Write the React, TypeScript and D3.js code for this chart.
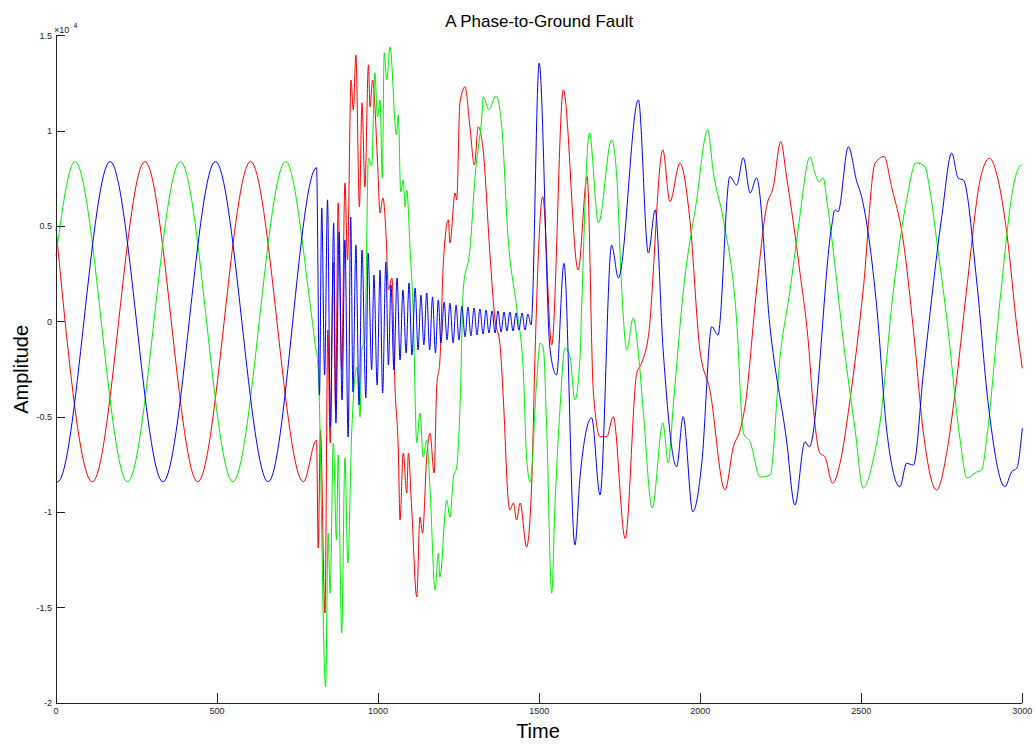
import React from "react";
import * as d3 from "d3";

// Three phase voltages (raw amplitude) sampled at their turning points, in [time, amplitude] pairs.
const redPhase: [number, number][] = [
  [0, 4900], [113, -8400], [276, 8400], [440, -8400], [604, 8400], [768, -8400],
  [809, -6210], [814, -11870], [821, -5680], [835, -15280], [844, -440], [851, -6360], [861, 3130], [868, -4630],
  [876, 6230], [887, -2530], [897, 7280], [905, 3240], [916, 12680], [923, 11110], [931, 13990], [942, 6020],
  [950, 11480], [959, 7070], [970, 13470], [975, 11270], [983, 12680], [998, 8480], [1006, 5700], [1015, 6490],
  [1025, 4440], [1032, 1660], [1043, 2290], [1052, -3220], [1063, -6890], [1068, -10400], [1078, -6890],
  [1089, -8990], [1094, -6890], [1104, -9720], [1120, -14430], [1130, -10250], [1138, -11090], [1151, -7100],
  [1161, -5840], [1174, -7940], [1182, -3410], [1192, -2010], [1202, 2890], [1218, 5340], [1223, 4130],
  [1239, 6750], [1244, 6390], [1254, 11480], [1270, 12320], [1285, 10230], [1299, 8220], [1311, 10220],
  [1327, 8850], [1347, 3600], [1363, 90], [1378, -1130], [1389, -4110], [1404, -9360], [1409, -9880],
  [1420, -9510], [1430, -10400], [1441, -9510], [1461, -11820], [1477, -8460], [1487, -1840], [1511, 6560],
  [1539, -1220], [1575, 12160], [1621, 2710], [1649, 7610], [1668, -3580], [1689, -6030], [1710, -6030],
  [1730, -4980], [1767, -11370], [1803, -2710], [1818, -2180], [1839, -790], [1884, 9010], [1906, 6300],
  [1937, 8310], [1968, 5340], [1999, -1480], [2030, -3580], [2077, -8830], [2103, -6560], [2124, -5680],
  [2139, -4460], [2175, 1660], [2206, 6030], [2227, 7080], [2250, 9440], [2268, 7610], [2310, 2540],
  [2336, -1130], [2351, -4460], [2372, -6910], [2387, -7080], [2411, -8480], [2434, -7430], [2465, -4110],
  [2506, 1660], [2543, 8310], [2571, 8660], [2594, 7080], [2630, 4290], [2662, -440], [2693, -5840],
  [2734, -8830], [2765, -6910], [2791, -3760], [2827, 1660], [2869, 7430], [2898, 8570], [2925, 7430],
  [2952, 4640], [2983, -260], [3000, -2450],
];

const greenPhase: [number, number][] = [
  [0, 3450], [59, 8400], [222, -8400], [386, 8400], [549, -8400], [713, 8400],
  [789, 930], [804, -1120], [814, -2380], [837, -19150], [845, -11090], [851, -14240], [861, -6370],
  [871, -11450], [876, -6990], [887, -16330], [897, -7150], [906, -12660], [918, -5840], [934, -2380],
  [944, -5000], [949, -1490], [959, -960], [970, 8590], [980, 8170], [990, 13050], [998, 10740],
  [1006, 11630], [1013, 7540], [1019, 14100], [1027, 12680], [1037, 14410], [1057, 9800], [1063, 10850],
  [1070, 6810], [1078, 7430], [1084, 6020], [1089, 6910], [1099, 3920], [1109, 460], [1120, -6360],
  [1130, -4790], [1140, -7100], [1151, -6210], [1161, -8670], [1177, -14080], [1187, -12140], [1192, -13400],
  [1213, -9360], [1223, -10250], [1234, -8150], [1244, -7620], [1254, -4630], [1265, 1820], [1285, 3760],
  [1301, 7590], [1322, 10740], [1327, 11790], [1344, 11110], [1366, 11840], [1384, 10220], [1404, 4290],
  [1430, 770], [1451, -2690], [1461, -7100], [1472, -8410], [1492, -3220], [1503, -1120], [1513, -1380],
  [1523, -5320], [1539, -14240], [1549, -9720], [1565, -4480], [1580, -1380], [1596, -1850], [1611, -4110],
  [1627, -1850], [1632, 770], [1656, 9900], [1684, 5180], [1725, 9530], [1741, 7590], [1756, 1820],
  [1772, -1480], [1792, 190], [1808, -1640], [1823, -4630], [1851, -9780], [1884, -5320], [1901, -7410],
  [1916, -4480], [1948, 1660], [1989, 6390], [2023, 10060], [2041, 7800], [2072, 5340], [2113, 90],
  [2134, -5840], [2155, -6310], [2186, -8150], [2217, -8040], [2248, -1850], [2279, 1660], [2305, 4970],
  [2341, 8640], [2356, 7800], [2370, 7330], [2382, 7540], [2393, 6390], [2413, 3760], [2444, -960],
  [2481, -5680], [2506, -8730], [2537, -7260], [2558, -5320], [2600, 1660], [2641, 6390], [2670, 8330],
  [2698, 8120], [2713, 6910], [2734, 4290], [2765, 250], [2807, -6210], [2828, -8200], [2858, -7890],
  [2874, -7780], [2890, -6050], [2931, 1140], [2972, 7070], [2991, 8130], [3000, 8220],
];

const bluePhase: [number, number][] = [
  [0, -8380], [5, -8400], [168, 8400], [332, -8400], [495, 8400], [659, -8400], [809, 8080],
  [818, -3850], [825, 5970], [834, -2800], [843, 6390], [852, -5530], [862, 5180], [869, -5320],
  [879, 4710], [888, -4110], [897, 4290], [907, -6050], [915, 5490], [922, -3690], [931, 4020],
  [941, -4370], [950, 3760], [962, -4000], [969, 3600], [980, -2530], [987, 2450], [997, -3320],
  [1006, 2710], [1014, -3740], [1024, 3130], [1032, -2270], [1040, 1930], [1049, -2530], [1059, 2290],
  [1068, -2010], [1077, 1660], [1087, -1640], [1096, 2030], [1105, -1750], [1115, 1770], [1124, -1480],
  [1133, 1400], [1142, -1220], [1151, 1510], [1160, -1480], [1169, 1300], [1178, -1640], [1187, 1140],
  [1195, -1120], [1205, 1030], [1214, -960], [1223, 980], [1233, -1120], [1242, 880], [1251, -960],
  [1260, 820], [1270, -800], [1279, 770], [1288, -750], [1298, 720], [1307, -700], [1316, 670],
  [1326, -650], [1335, 610], [1344, -590], [1354, 560], [1363, -590], [1372, 560], [1382, -540],
  [1391, 510], [1400, -490], [1409, 510], [1419, -490], [1428, 460], [1437, -440], [1447, 460],
  [1456, -440], [1465, 400], [1475, -170],
  [1500, 13560], [1534, -1490], [1554, -2800], [1577, 3060], [1611, -11720], [1627, -8130], [1663, -5040],
  [1689, -9090], [1725, 4020], [1746, 2290], [1808, 11630], [1839, 3600], [1860, 5860], [1885, -1490],
  [1927, -7610], [1947, -4980], [1977, -9970], [2005, -7410], [2036, -260], [2055, -700], [2092, 7610],
  [2113, 7170], [2134, 8590], [2155, 6750], [2175, 7540], [2217, -330], [2268, -6210], [2294, -9620],
  [2325, -6300], [2339, -6560], [2408, 4980], [2418, 5860], [2428, 5770], [2460, 9180], [2486, 7350],
  [2501, 6560], [2548, 790], [2579, -5680], [2620, -8660], [2641, -7430], [2662, -7520], [2693, -2690],
  [2750, 5510], [2781, 8840], [2801, 7520], [2817, 7430], [2858, 2190], [2894, -4270], [2946, -8660],
  [2967, -7870], [2983, -7680], [3000, -5590],
];

const xTicks = [0, 500, 1000, 1500, 2000, 2500, 3000];
// y tick values in units of 10^4
const yTicks = [-2, -1.5, -1, -0.5, 0, 0.5, 1, 1.5];

const series = [
  { name: "Phase A", color: "#ff0000", data: redPhase },
  { name: "Phase B", color: "#00ee00", data: greenPhase },
  { name: "Phase C", color: "#0000ff", data: bluePhase },
];

const FONT = "'Liberation Sans', Arial, Helvetica, sans-serif";

export default function App() {
  const x = d3.scaleLinear().domain([0, 3000]).range([56, 1022.3]);
  const y = d3.scaleLinear().domain([-20000, 15000]).range([703, 35.7]);
  const line = d3
    .line<[number, number]>()
    .x((d) => x(d[0]))
    .y((d) => y(d[1]))
    .curve(d3.curveMonotoneX);

  const [x0, x1] = x.range();
  const [yBottom, yTop] = y.range();

  return (
    <svg
      width={1035}
      height={746}
      style={{ position: "absolute", left: 0, top: 0, background: "#fff" }}
      fontFamily={FONT}
    >
      <rect width={1035} height={746} fill="#fff" />
      <text x={(x0 + x1) / 2} y={27} textAnchor="middle" fontSize={17} fill="#000">
        A Phase-to-Ground Fault
      </text>

      {series.map((s) => (
        <path key={s.name} d={line(s.data) || ""} fill="none" stroke={s.color} strokeWidth={1} />
      ))}

      {/* axes */}
      <g stroke="#222" strokeWidth={1} shapeRendering="crispEdges">
        <line x1={x0} x2={x0} y1={yTop} y2={yBottom} />
        <line x1={x0} x2={x1} y1={yBottom} y2={yBottom} />
        {yTicks.map((t) => (
          <line key={"yt" + t} x1={x0} x2={x0 + 9} y1={y(t * 10000)} y2={y(t * 10000)} />
        ))}
        {xTicks.map((t) => (
          <line key={"xt" + t} x1={x(t)} x2={x(t)} y1={yBottom} y2={yBottom - 10} />
        ))}
      </g>

      <g fontSize={9} fill="#222">
        {yTicks.map((t) => (
          <text key={"yl" + t} x={x0 - 4} y={y(t * 10000) + 3} textAnchor="end">
            {String(t)}
          </text>
        ))}
        {xTicks.map((t) => (
          <text key={"xl" + t} x={x(t)} y={yBottom + 11} textAnchor="middle">
            {String(t)}
          </text>
        ))}
        <text x={54} y={33}>
          ×10
        </text>
        <text x={73.5} y={27.5} fontSize={7}>
          4
        </text>
      </g>

      <text x={538} y={738} textAnchor="middle" fontSize={20} fill="#000">
        Time
      </text>
      <text
        transform={`translate(28, ${(yTop + yBottom) / 2}) rotate(-90)`}
        textAnchor="middle"
        fontSize={20}
        fill="#000"
      >
        Amplitude
      </text>
    </svg>
  );
}
